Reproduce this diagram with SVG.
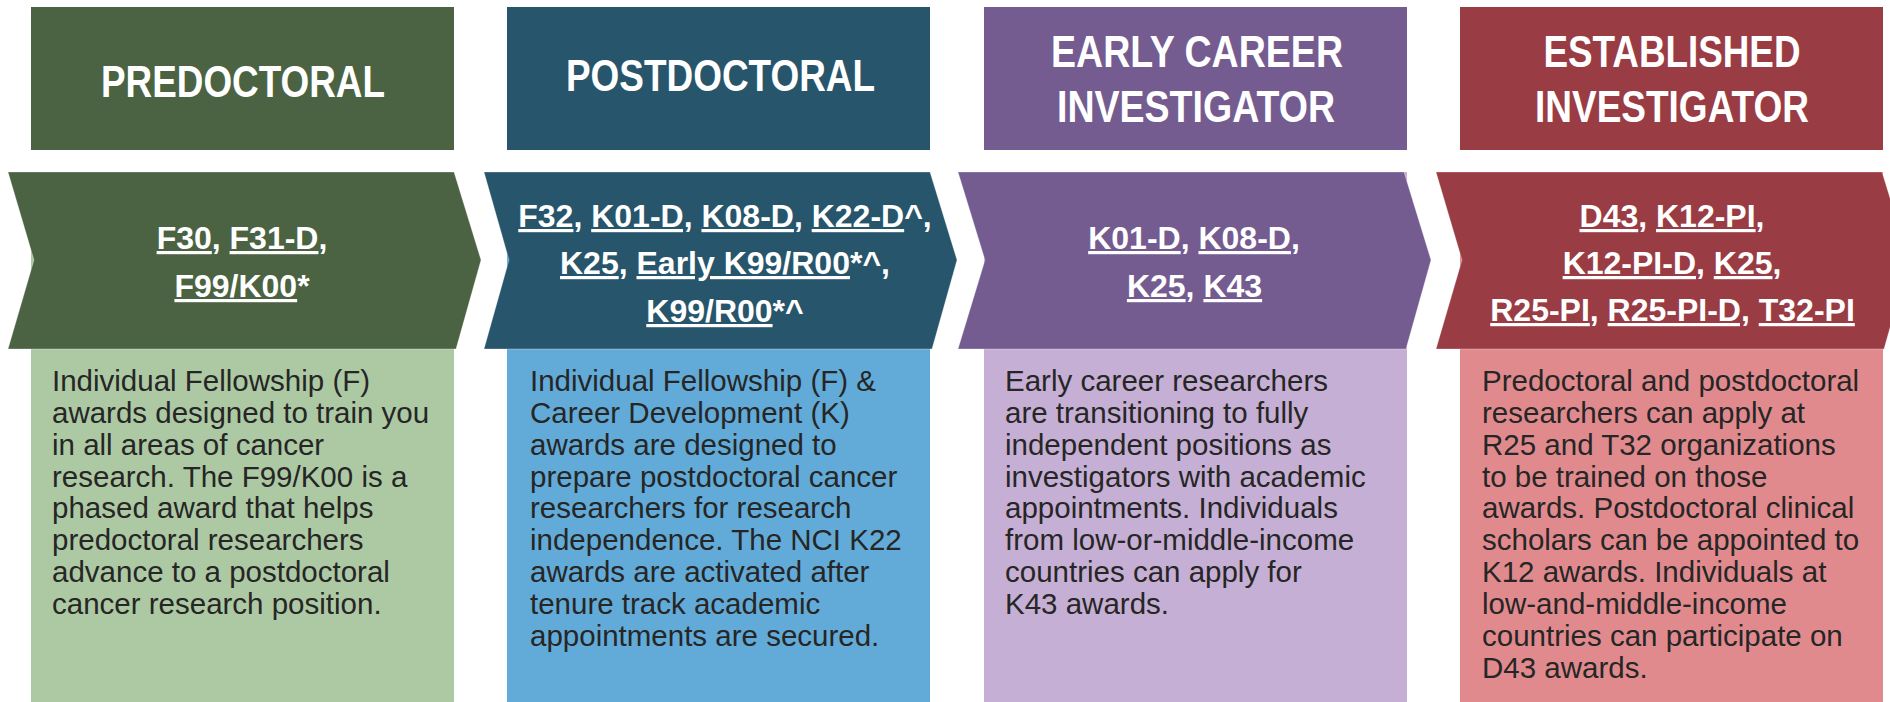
<svg xmlns="http://www.w3.org/2000/svg" width="1890" height="702" viewBox="0 0 1890 702">
<style>
.hdr{font-family:"Liberation Sans",Arial,sans-serif;font-weight:bold;font-size:44px;fill:#ffffff;text-anchor:middle}
.code{font-family:"Liberation Sans",Arial,sans-serif;font-weight:bold;font-size:32px;fill:#ffffff;text-anchor:middle}
.u{text-decoration:underline}
.body{font-family:"Liberation Sans",Arial,sans-serif;font-size:29.5px;fill:#262626}
.chev{stroke:#ffffff;stroke-opacity:0.3;stroke-width:1}
</style>
<rect width="1890" height="702" fill="#ffffff"/>

<g id="predoctoral">
  <rect x="31" y="7" width="423" height="143" fill="#4B6342"/>
  <rect x="31" y="172" width="423" height="530" fill="#ADC9A3"/>
  <polygon class="chev" points="8,172 454,172 481,260 456,349 8,349 34,260" fill="#4B6342"/>
  <text class="hdr" x="243" y="97" textLength="284" lengthAdjust="spacingAndGlyphs">PREDOCTORAL</text>
  <text class="code" x="242" y="249"><tspan class="u">F30</tspan>, <tspan class="u">F31-D</tspan>,</text>
  <text class="code" x="242" y="297"><tspan class="u">F99/K00</tspan>*</text>
  <text class="body" x="52" y="391">
    <tspan x="52" y="391">Individual Fellowship (F)</tspan>
    <tspan x="52" y="423">awards designed to train you</tspan>
    <tspan x="52" y="455">in all areas of cancer</tspan>
    <tspan x="52" y="487">research. The F99/K00 is a</tspan>
    <tspan x="52" y="518">phased award that helps</tspan>
    <tspan x="52" y="550">predoctoral researchers</tspan>
    <tspan x="52" y="582">advance to a postdoctoral</tspan>
    <tspan x="52" y="614">cancer research position.</tspan>
  </text>
</g>

<g id="postdoctoral">
  <rect x="507" y="7" width="423" height="143" fill="#27556B"/>
  <rect x="507" y="172" width="423" height="530" fill="#62ABD8"/>
  <polygon class="chev" points="484,172 930,172 957,260 932,349 484,349 509,260" fill="#27556B"/>
  <text class="hdr" x="720.5" y="91" textLength="309" lengthAdjust="spacingAndGlyphs">POSTDOCTORAL</text>
  <text class="code" x="725" y="227"><tspan class="u">F32</tspan>, <tspan class="u">K01-D,</tspan> <tspan class="u">K08-D</tspan>, <tspan class="u">K22-D</tspan>^,</text>
  <text class="code" x="725" y="274"><tspan class="u">K25</tspan>, <tspan class="u">Early K99/R00</tspan>*^,</text>
  <text class="code" x="725" y="322"><tspan class="u">K99/R00</tspan>*^</text>
  <text class="body" x="530" y="391">
    <tspan x="530" y="391">Individual Fellowship (F) &amp;</tspan>
    <tspan x="530" y="423">Career Development (K)</tspan>
    <tspan x="530" y="455">awards are designed to</tspan>
    <tspan x="530" y="487">prepare postdoctoral cancer</tspan>
    <tspan x="530" y="518">researchers for research</tspan>
    <tspan x="530" y="550">independence. The NCI K22</tspan>
    <tspan x="530" y="582">awards are activated after</tspan>
    <tspan x="530" y="614">tenure track academic</tspan>
    <tspan x="530" y="646">appointments are secured.</tspan>
  </text>
</g>

<g id="early-career">
  <rect x="984" y="7" width="423" height="143" fill="#745C91"/>
  <rect x="984" y="172" width="423" height="530" fill="#C6AFD4"/>
  <polygon class="chev" points="958,172 1404,172 1431,260 1406,349 958,349 985,260" fill="#745C91"/>
  <text class="hdr" x="1197" y="67" textLength="292" lengthAdjust="spacingAndGlyphs">EARLY CAREER</text>
  <text class="hdr" x="1196" y="122" textLength="278" lengthAdjust="spacingAndGlyphs">INVESTIGATOR</text>
  <text class="code" x="1194" y="249"><tspan class="u">K01-D</tspan>, <tspan class="u">K08-D</tspan>,</text>
  <text class="code" x="1194.5" y="297"><tspan class="u">K25</tspan>, <tspan class="u">K43</tspan></text>
  <text class="body" x="1005" y="391">
    <tspan x="1005" y="391">Early career researchers</tspan>
    <tspan x="1005" y="423">are transitioning to fully</tspan>
    <tspan x="1005" y="455">independent positions as</tspan>
    <tspan x="1005" y="487">investigators with academic</tspan>
    <tspan x="1005" y="518">appointments. Individuals</tspan>
    <tspan x="1005" y="550">from low-or-middle-income</tspan>
    <tspan x="1005" y="582">countries can apply for</tspan>
    <tspan x="1005" y="614">K43 awards.</tspan>
  </text>
</g>

<g id="established">
  <rect x="1460" y="7" width="423" height="143" fill="#9A3C43"/>
  <rect x="1460" y="172" width="423" height="530" fill="#E18A8E"/>
  <polygon class="chev" points="1436,172 1882,172 1909,260 1884,349 1436,349 1462,260" fill="#9A3C43"/>
  <text class="hdr" x="1672" y="67" textLength="257" lengthAdjust="spacingAndGlyphs">ESTABLISHED</text>
  <text class="hdr" x="1672" y="122" textLength="274" lengthAdjust="spacingAndGlyphs">INVESTIGATOR</text>
  <text class="code" x="1672" y="227"><tspan class="u">D43</tspan>, <tspan class="u">K12-PI</tspan>,</text>
  <text class="code" x="1672" y="274"><tspan class="u">K12-PI-D</tspan>, <tspan class="u">K25</tspan>,</text>
  <text class="code" x="1672.5" y="321"><tspan class="u">R25-PI</tspan>, <tspan class="u">R25-PI-D,</tspan> <tspan class="u">T32-PI</tspan></text>
  <text class="body" x="1482" y="391">
    <tspan x="1482" y="391">Predoctoral and postdoctoral</tspan>
    <tspan x="1482" y="423">researchers can apply at</tspan>
    <tspan x="1482" y="455">R25 and T32 organizations</tspan>
    <tspan x="1482" y="487">to be trained on those</tspan>
    <tspan x="1482" y="518">awards. Postdoctoral clinical</tspan>
    <tspan x="1482" y="550">scholars can be appointed to</tspan>
    <tspan x="1482" y="582">K12 awards. Individuals at</tspan>
    <tspan x="1482" y="614">low-and-middle-income</tspan>
    <tspan x="1482" y="646">countries can participate on</tspan>
    <tspan x="1482" y="678">D43 awards.</tspan>
  </text>
</g>
</svg>
